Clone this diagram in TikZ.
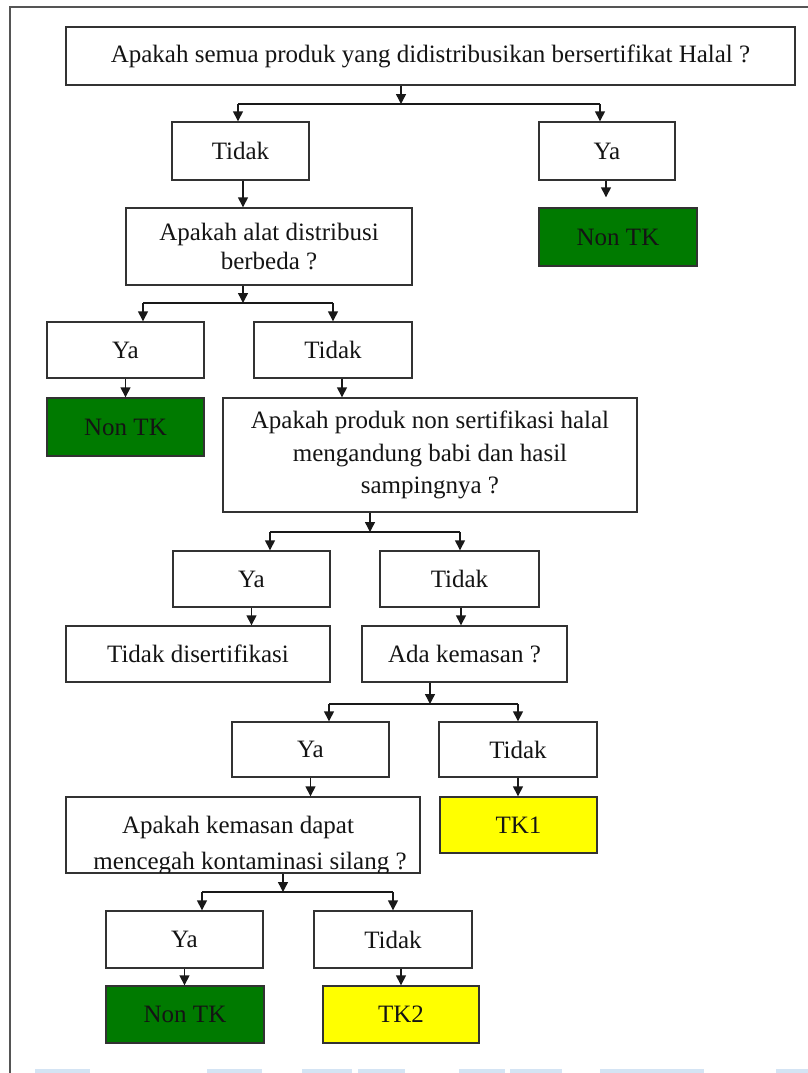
\documentclass[tikz,border=0pt]{standalone}
\usepackage{fontspec}
\setmainfont{Liberation Serif}
\usetikzlibrary{arrows.meta,calc}

\definecolor{okgreen}{RGB}{0,122,0}
\definecolor{tkyellow}{RGB}{255,255,0}
\definecolor{edgegray}{RGB}{50,50,50}
\definecolor{framegray}{RGB}{85,85,85}
\definecolor{stripblue}{RGB}{212,228,244}

% \placebox{name}{style}{left}{top}{right}{bottom}{text}
\newcommand{\placebox}[7]{%
  \node[#2, minimum width={#5-#3}, minimum height={#6-#4}] (#1)
    at ({(#3+#5)/2},{(#4+#6)/2}) {#7};}

\begin{document}
\begin{tikzpicture}[x=1pt,y=-1pt,
  every node/.style={font=\fontsize{25}{30}\selectfont, text=black!92},
  box/.style={draw=edgegray, line width=1.4pt, fill=white, inner sep=0pt, align=center},
  greenbox/.style={box, fill=okgreen},
  yellowbox/.style={box, fill=tkyellow},
  link/.style={draw=black!90, line width=1.4pt},
  arr/.style={link, -{Triangle[length=10pt,width=10pt]}},
]
\useasboundingbox (0,0) rectangle (808,1073);

% page frame
\draw[framegray, line width=1.6pt] (10,1073) -- (10,7) -- (808,7);

% faint strips along the bottom edge
\foreach \a/\b in {35/90,207/262,302/352,358/405,459/505,510/562,600/704,776/808}
  \fill[stripblue] (\a,1069) rectangle (\b,1073);

% ---- boxes ----
\placebox{q1}{box}{66}{27}{795}{85}{Apakah semua produk yang didistribusikan bersertifikat Halal ?}
\placebox{t1}{box}{172}{122}{309}{180}{Tidak}
\placebox{y1}{box}{539}{122}{675}{180}{Ya}
\placebox{n1}{greenbox}{539}{208}{697}{266}{Non TK}
\placebox{q2}{box, font=\fontsize{25}{29}\selectfont}{126}{208}{412}{285}{Apakah alat distribusi\\berbeda ?}
\placebox{y2}{box}{47}{322}{204}{378}{Ya}
\placebox{t2}{box}{254}{322}{412}{378}{Tidak}
\placebox{n2}{greenbox}{47}{398}{204}{456}{Non TK}
\placebox{q3}{box, font=\fontsize{25}{32.5}\selectfont}{223}{398}{637}{512}{Apakah produk non sertifikasi halal\\mengandung babi dan hasil\\sampingnya ?}
\placebox{y3}{box}{173}{551}{330}{607}{Ya}
\placebox{t3}{box}{380}{551}{539}{607}{Tidak}
\placebox{d3}{box}{66}{626}{330}{682}{Tidak disertifikasi}
\placebox{k3}{box}{362}{626}{567}{682}{Ada kemasan ?}
\placebox{y4}{box}{232}{722}{389}{777}{Ya}
\placebox{t4}{box}{439}{722}{597}{777}{Tidak}
\placebox{q4}{box}{66}{797}{420}{873}{}
\placebox{tk1}{yellowbox}{440}{797}{597}{853}{TK1}
\placebox{y5}{box}{106}{911}{263}{968}{Ya}
\placebox{t5}{box}{314}{911}{472}{968}{Tidak}
\placebox{n5}{greenbox}{106}{986}{264}{1043}{Non TK}
\placebox{tk2}{yellowbox}{323}{986}{479}{1043}{TK2}

% question text of q4, cut off by the lower edge of its box
\begin{scope}
  \clip (q4.south west) rectangle (q4.north east);
  \node[anchor=base] (q4a) at (238,833) {Apakah kemasan dapat};
  \node[anchor=base] (q4b) at (250,869) {mencegah kontaminasi silang ?};
\end{scope}
\draw[edgegray, line width=1.4pt] (q4.south west) rectangle (q4.north east);

% ---- branch points ----
\coordinate (s1) at (401,104);  \coordinate (s1l) at (238,104); \coordinate (s1r) at (600,104);
\coordinate (s2) at (243,303);  \coordinate (s2l) at (143,303); \coordinate (s2r) at (333,303);
\coordinate (s3) at (370,532);  \coordinate (s3l) at (270,532); \coordinate (s3r) at (460,532);
\coordinate (s4) at (430,704);  \coordinate (s4l) at (329,704); \coordinate (s4r) at (518,704);
\coordinate (s5) at (283,892);  \coordinate (s5l) at (202,892); \coordinate (s5r) at (393,892);

% start points of the slightly off-centre straight links
\coordinate (y1out) at ($(y1.south)+(-1,0)$);
\coordinate (t1out) at ($(t1.south)+(2.5,0)$);
\coordinate (t2out) at ($(t2.south)+(9,0)$);
\coordinate (t3out) at ($(t3.south)+(1.5,0)$);

% ---- connectors ----
% level 1
\draw[arr] (q1.south -| s1) -- (s1);
\draw[link] (s1l) -- (s1r);
\draw[arr] (s1l) -- (s1l |- t1.north);
\draw[arr] (s1r) -- (s1r |- y1.north);
\draw[arr, shorten >=10pt] (y1out) -- (y1out |- n1.north);
\draw[arr] (t1out) -- (t1out |- q2.north);

% level 2
\draw[arr] (q2.south -| s2) -- (s2);
\draw[link] (s2l) -- (s2r);
\draw[arr] (s2l) -- (s2l |- y2.north);
\draw[arr] (s2r) -- (s2r |- t2.north);
\draw[arr] (y2.south) -- (y2.south |- n2.north);
\draw[arr] (t2out) -- (t2out |- q3.north);

% level 3
\draw[arr] (q3.south -| s3) -- (s3);
\draw[link] (s3l) -- (s3r);
\draw[arr] (s3l) -- (s3l |- y3.north);
\draw[arr] (s3r) -- (s3r |- t3.north);
\draw[arr] (y3.south) -- (y3.south |- d3.north);
\draw[arr] (t3out) -- (t3out |- k3.north);

% level 4
\draw[arr] (k3.south -| s4) -- (s4);
\draw[link] (s4l) -- (s4r);
\draw[arr] (s4l) -- (s4l |- y4.north);
\draw[arr] (s4r) -- (s4r |- t4.north);
\draw[arr] (y4.south) -- (y4.south |- q4.north);
\draw[arr] (t4.south) -- (t4.south |- tk1.north);

% level 5
\draw[arr] (q4.south -| s5) -- (s5);
\draw[link] (s5l) -- (s5r);
\draw[arr] (s5l) -- (s5l |- y5.north);
\draw[arr] (s5r) -- (s5r |- t5.north);
\draw[arr] (y5.south) -- (y5.south |- n5.north);
\draw[arr] (t5.south -| tk2.north) -- (tk2.north);
\end{tikzpicture}
\end{document}
